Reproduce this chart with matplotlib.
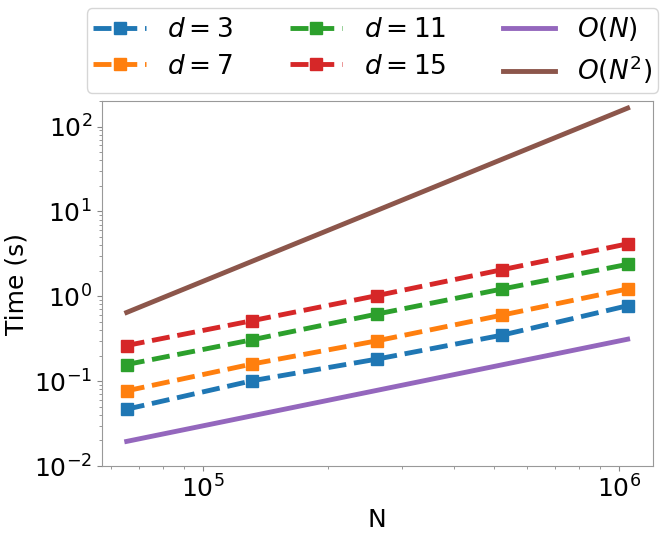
import matplotlib
matplotlib.use("Agg")
import matplotlib.pyplot as plt

N = [65536, 131072, 262144, 524288, 1048576]
t_d3 = [0.0467, 0.101, 0.182, 0.349, 0.774]
t_d7 = [0.0769, 0.159, 0.299, 0.601, 1.22]
t_d11 = [0.157, 0.307, 0.618, 1.22, 2.38]
t_d15 = [0.263, 0.515, 1.02, 2.06, 4.15]
t_ON = [0.0195, 0.039, 0.078, 0.156, 0.312]
t_ON2 = [0.645, 2.58, 10.3, 41.3, 165.0]

series = [(t_d3, r"$d=3$", "#1f77b4"), (t_d7, r"$d=7$", "#ff7f0e"),
          (t_d11, r"$d=11$", "#2ca02c"), (t_d15, r"$d=15$", "#d62728")]

fig = plt.figure(figsize=(6.65, 5.33), dpi=100)
ax = fig.add_axes([0.1529, 0.1257, 0.8286, 0.6848])
for vals, lab, c in series:
    ax.plot(N, vals, linestyle="--", marker="s", color=c, linewidth=3.5,
            markersize=8, label=lab)
ax.plot(N, t_ON, color="#9467bd", linewidth=3.5, label=r"$O(N)$")
ax.plot(N, t_ON2, color="#8c564b", linewidth=3.5, label=r"$O(N^2)$")
ax.set_xscale("log")
ax.set_yscale("log")
ax.set_ylim(1e-2, 2e2)
ax.set_xlabel("N", fontsize=18)
ax.set_ylabel("Time (s)", fontsize=18)
ax.tick_params(axis="both", which="major", labelsize=18, color="#888888")
ax.tick_params(axis="both", which="minor", color="#888888")
for s in ax.spines.values():
    s.set_color("#999999")
ax.legend(ncol=3, fontsize=19, loc="lower right", bbox_to_anchor=(0.990, 0.826),
          bbox_transform=fig.transFigure, borderaxespad=0, borderpad=0.25,
          labelspacing=0.4, columnspacing=2.15)
fig.savefig("out.png", dpi=100)
